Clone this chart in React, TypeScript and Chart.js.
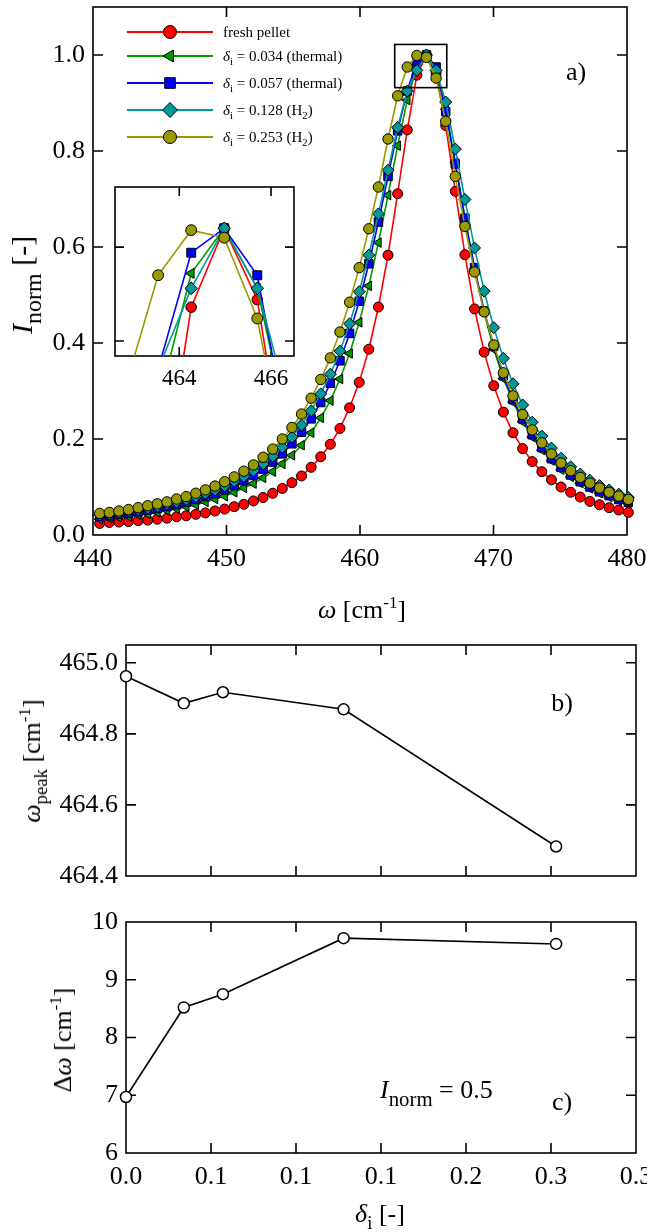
import React, { useEffect, useRef } from 'react';
import { Chart, registerables } from 'chart.js';
import { drawPoint } from 'chart.js/helpers';

Chart.register(...registerables);

const FONT = '"Liberation Serif", "Times New Roman", Times, serif';
Chart.defaults.font.family = FONT;
Chart.defaults.color = '#000';

// ---------- panel a: normalised spectra ----------
const wavenumber = [
  440.50, 441.22, 441.94, 442.66, 443.38, 444.10, 444.82, 445.54, 446.26, 446.98,
  447.70, 448.42, 449.14, 449.86, 450.58, 451.30, 452.02, 452.74, 453.46, 454.18,
  454.90, 455.62, 456.34, 457.06, 457.78, 458.50, 459.22, 459.94, 460.66, 461.38,
  462.10, 462.82, 463.54, 464.26, 464.98, 465.70, 466.42, 467.14, 467.86, 468.58,
  469.30, 470.02, 470.74, 471.46, 472.18, 472.90, 473.62, 474.34, 475.06, 475.78,
  476.50, 477.22, 477.94, 478.66, 479.38, 480.10,
];
const freshPellet = [
  0.024, 0.026, 0.027, 0.028, 0.030, 0.031, 0.033, 0.035, 0.038, 0.040,
  0.043, 0.046, 0.050, 0.054, 0.059, 0.064, 0.071, 0.078, 0.087, 0.097,
  0.109, 0.123, 0.141, 0.163, 0.189, 0.222, 0.265, 0.318, 0.387, 0.475,
  0.583, 0.711, 0.844, 0.958, 1.000, 0.962, 0.853, 0.716, 0.584, 0.471,
  0.381, 0.311, 0.256, 0.213, 0.180, 0.153, 0.132, 0.115, 0.100, 0.089,
  0.079, 0.070, 0.063, 0.057, 0.052, 0.047,
];
const thermal034 = [
  0.033, 0.035, 0.037, 0.039, 0.042, 0.044, 0.047, 0.051, 0.055, 0.059,
  0.063, 0.069, 0.075, 0.081, 0.089, 0.098, 0.107, 0.119, 0.132, 0.148,
  0.166, 0.187, 0.213, 0.244, 0.280, 0.325, 0.378, 0.443, 0.519, 0.609,
  0.708, 0.811, 0.906, 0.976, 1.000, 0.968, 0.887, 0.776, 0.660, 0.554,
  0.463, 0.387, 0.326, 0.277, 0.236, 0.204, 0.177, 0.155, 0.136, 0.121,
  0.108, 0.097, 0.087, 0.079, 0.072, 0.066,
];
const thermal057 = [
  0.038, 0.040, 0.043, 0.045, 0.048, 0.052, 0.055, 0.059, 0.063, 0.068,
  0.074, 0.080, 0.086, 0.094, 0.103, 0.113, 0.124, 0.137, 0.152, 0.169,
  0.190, 0.214, 0.242, 0.276, 0.316, 0.363, 0.420, 0.487, 0.565, 0.652,
  0.747, 0.842, 0.925, 0.987, 1.000, 0.975, 0.882, 0.773, 0.660, 0.557,
  0.467, 0.393, 0.332, 0.282, 0.242, 0.209, 0.182, 0.159, 0.141, 0.125,
  0.111, 0.100, 0.090, 0.082, 0.074, 0.068,
];
const hydrogen128 = [
  0.042, 0.044, 0.047, 0.050, 0.053, 0.056, 0.060, 0.065, 0.069, 0.074,
  0.080, 0.087, 0.094, 0.102, 0.112, 0.122, 0.134, 0.148, 0.164, 0.183,
  0.204, 0.229, 0.259, 0.294, 0.335, 0.383, 0.440, 0.507, 0.583, 0.669,
  0.760, 0.849, 0.925, 0.968, 1.000, 0.968, 0.902, 0.804, 0.699, 0.598,
  0.508, 0.432, 0.368, 0.315, 0.271, 0.235, 0.206, 0.181, 0.160, 0.142,
  0.127, 0.114, 0.103, 0.094, 0.085, 0.078,
];
const hydrogen253 = [
  0.045, 0.047, 0.050, 0.053, 0.057, 0.061, 0.065, 0.069, 0.075, 0.080,
  0.087, 0.094, 0.102, 0.111, 0.121, 0.133, 0.146, 0.162, 0.179, 0.200,
  0.224, 0.252, 0.285, 0.324, 0.369, 0.423, 0.485, 0.557, 0.638, 0.725,
  0.825, 0.915, 0.975, 0.999, 0.995, 0.952, 0.862, 0.747, 0.643, 0.548,
  0.465, 0.396, 0.338, 0.290, 0.251, 0.219, 0.192, 0.169, 0.150, 0.134,
  0.120, 0.108, 0.098, 0.089, 0.081, 0.074,
];
const seriesValues = [freshPellet, thermal034, thermal057, hydrogen128, hydrogen253];
const seriesLabels = [
  'fresh pellet',
  '*δ*_{i} = 0.034 (thermal)',
  '*δ*_{i} = 0.057 (thermal)',
  '*δ*_{i} = 0.128 (H_{2})',
  '*δ*_{i} = 0.253 (H_{2})',
];
const seriesColors = ['#ff0000', '#009a00', '#0000ff', '#009999', '#9a9a00'];
const seriesStyles = ['circle', 'triangle', 'rect', 'rectRot', 'circle'];
const seriesRotation = [0, -90, 0, 0, 0];
const seriesRadius = [5, 5.5, 6, 6, 5.2];
const legendRadius = [6.5, 7, 7.5, 7.5, 6.5];

const mainXTicks = [440, 450, 460, 470, 480];
const mainYTicks = [0, 0.2, 0.4, 0.6, 0.8, 1.0];
const insetXTicks = [464, 466];
const insetYTicks = [0.94, 0.99];
const insetXRange = [462.6, 466.5];
const insetYRange = [0.932, 1.022];

// ---------- panels b and c ----------
const deltaI = [0, 0.034, 0.057, 0.128, 0.253];
const omegaPeak = [464.962, 464.886, 464.917, 464.869, 464.483];
const deltaOmega = [6.97, 8.52, 8.75, 9.72, 9.62];
const deltaTicks = [0, 0.05, 0.1, 0.15, 0.2, 0.25, 0.3];
const deltaTickLabels = ['0.0', '0.1', '0.1', '0.1', '0.2', '0.3', '0.3'];
const peakTicks = [464.4, 464.6, 464.8, 465.0];
const widthTicks = [6, 7, 8, 9, 10];

// ---------- plugins ----------
const frameTicksPlugin = {
  id: 'frameTicks',
  beforeDatasetsDraw(chart: any, _a: any, opts: any) {
    const { ctx, chartArea } = chart;
    const { left, right, top, bottom } = chartArea;
    const len = opts.len ?? 10;
    ctx.save();
    ctx.strokeStyle = '#000';
    ctx.lineWidth = opts.width ?? 1.6;
    ctx.beginPath();
    const xs = chart.scales.x;
    const ys = chart.scales.y;
    for (const t of xs.ticks) {
      const px = xs.getPixelForValue(t.value);
      if (px < left + 1 || px > right - 1) continue;
      ctx.moveTo(px, bottom);
      ctx.lineTo(px, bottom - len);
      if (opts.mirror) {
        ctx.moveTo(px, top);
        ctx.lineTo(px, top + len);
      }
    }
    for (const t of ys.ticks) {
      const py = ys.getPixelForValue(t.value);
      if (py < top + 1 || py > bottom - 1) continue;
      ctx.moveTo(left, py);
      ctx.lineTo(left + len, py);
      if (opts.mirror) {
        ctx.moveTo(right, py);
        ctx.lineTo(right - len, py);
      }
    }
    ctx.stroke();
    ctx.strokeRect(left, top, right - left, bottom - top);
    ctx.restore();
  },
};

const zoomBoxPlugin = {
  id: 'zoomBox',
  afterDatasetsDraw(chart: any) {
    const { ctx } = chart;
    const xs = chart.scales.x;
    const ys = chart.scales.y;
    const x0 = xs.getPixelForValue(insetXRange[0]);
    const x1 = xs.getPixelForValue(insetXRange[1]);
    const y0 = ys.getPixelForValue(insetYRange[1]);
    const y1 = ys.getPixelForValue(insetYRange[0]);
    ctx.save();
    ctx.strokeStyle = '#000';
    ctx.lineWidth = 1.6;
    ctx.strokeRect(x0, y0, x1 - x0, y1 - y0);
    ctx.restore();
  },
};

const legendRows = [32, 56, 83, 110, 137];
const legendSamplesPlugin = {
  id: 'legendSamples',
  afterDraw(chart: any) {
    const { ctx } = chart;
    chart.data.datasets.forEach((ds: any, i: number) => {
      const y = legendRows[i];
      ctx.save();
      ctx.strokeStyle = ds.borderColor;
      ctx.lineWidth = 1.8;
      ctx.beginPath();
      ctx.moveTo(127, y);
      ctx.lineTo(213, y);
      ctx.stroke();
      ctx.fillStyle = ds.pointBackgroundColor;
      ctx.strokeStyle = '#000';
      ctx.lineWidth = 1;
      drawPoint(ctx, { pointStyle: ds.pointStyle, rotation: ds.pointRotation, radius: legendRadius[i], borderWidth: 1 } as any, 170, y);
      ctx.restore();
    });
  },
};

const tickFont = (size: number) => ({ family: FONT, size });
const noPad = (s: any) => {
  s.paddingLeft = 0;
  s.paddingRight = 0;
  s.paddingTop = 0;
  s.paddingBottom = 0;
};

function spectraDatasets(radiusScale: number, clip: any) {
  return seriesValues.map((vals, i) => ({
    label: seriesLabels[i],
    data: wavenumber.map((x, k) => ({ x, y: vals[k] })),
    borderColor: seriesColors[i],
    backgroundColor: seriesColors[i],
    borderWidth: 1.6,
    pointStyle: seriesStyles[i],
    pointRotation: seriesRotation[i],
    pointRadius: seriesRadius[i] * radiusScale,
    pointBackgroundColor: seriesColors[i],
    pointBorderColor: '#000',
    pointBorderWidth: 1,
    tension: 0,
    order: 4 - i,
    clip,
  }));
}

function mainConfig(): any {
  return {
    type: 'line',
    data: { datasets: spectraDatasets(1, false) },
    options: {
      responsive: false,
      animation: false,
      devicePixelRatio: 1,
      layout: { padding: { top: 2, right: 20, left: 0, bottom: 0 } },
      plugins: {
        legend: { display: false },
        tooltip: { enabled: false },
        frameTicks: { mirror: true, len: 10 },
      },
      scales: {
        x: {
          type: 'linear', min: 440, max: 480,
          afterBuildTicks: (s: any) => { s.ticks = mainXTicks.map((v) => ({ value: v })); },
          afterFit: (s: any) => { s.height = 90; noPad(s); },
          grid: { display: false, drawTicks: false },
          border: { display: false },
          ticks: { font: tickFont(26), color: '#000', padding: 9, maxRotation: 0, autoSkip: false, callback: (v: any) => String(v) },
        },
        y: {
          type: 'linear', min: 0, max: 1.1,
          afterBuildTicks: (s: any) => { s.ticks = mainYTicks.map((v) => ({ value: v })); },
          afterFit: (s: any) => { s.width = 93; noPad(s); },
          grid: { display: false, drawTicks: false },
          border: { display: false },
          ticks: { font: tickFont(26), color: '#000', padding: 8, autoSkip: false, callback: (v: any) => Number(v).toFixed(1) },
        },
      },
    },
    plugins: [frameTicksPlugin, zoomBoxPlugin, legendSamplesPlugin],
  };
}

function insetConfig(): any {
  return {
    type: 'line',
    data: { datasets: spectraDatasets(1.05, 0) },
    options: {
      responsive: false,
      animation: false,
      devicePixelRatio: 1,
      layout: { padding: { top: 17, right: 16, left: 0, bottom: 0 } },
      plugins: {
        legend: { display: false },
        tooltip: { enabled: false },
        frameTicks: { mirror: true, len: 9 },
      },
      scales: {
        x: {
          type: 'linear', min: insetXRange[0], max: insetXRange[1],
          afterBuildTicks: (s: any) => { s.ticks = insetXTicks.map((v) => ({ value: v })); },
          afterFit: (s: any) => { s.height = 39; noPad(s); },
          grid: { display: false, drawTicks: false },
          border: { display: false },
          ticks: { font: tickFont(23), color: '#000', padding: 9, maxRotation: 0, autoSkip: false, callback: (v: any) => String(v) },
        },
        y: {
          type: 'linear', min: insetYRange[0], max: insetYRange[1],
          afterBuildTicks: (s: any) => { s.ticks = insetYTicks.map((v) => ({ value: v })); },
          afterFit: (s: any) => { s.width = 15; noPad(s); },
          grid: { display: false, drawTicks: false },
          border: { display: false },
          ticks: { display: false },
        },
      },
    },
    plugins: [frameTicksPlugin],
  };
}

function trendConfig(values: number[], yMin: number, yMax: number, yTicks: number[], yFmt: (v: number) => string, showX: boolean, padTop: number, xHeight: number): any {
  return {
    type: 'line',
    data: {
      datasets: [{
        data: deltaI.map((x, k) => ({ x, y: values[k] })),
        borderColor: '#000',
        borderWidth: 1.6,
        pointStyle: 'circle',
        pointRadius: 5.5,
        pointBackgroundColor: '#fff',
        pointBorderColor: '#000',
        pointBorderWidth: 1.5,
        tension: 0,
        clip: false,
      }],
    },
    options: {
      responsive: false,
      animation: false,
      devicePixelRatio: 1,
      layout: { padding: { top: padTop, right: 11, left: 0, bottom: 0 } },
      plugins: {
        legend: { display: false },
        tooltip: { enabled: false },
        frameTicks: { mirror: true, len: 10 },
      },
      scales: {
        x: {
          type: 'linear', min: 0, max: 0.3,
          afterBuildTicks: (s: any) => { s.ticks = deltaTicks.map((v) => ({ value: v })); },
          afterFit: (s: any) => { s.height = xHeight; noPad(s); },
          grid: { display: false, drawTicks: false },
          border: { display: false },
          ticks: { display: showX, font: tickFont(26), color: '#000', padding: 9, maxRotation: 0, autoSkip: false, callback: (_v: any, i: number) => deltaTickLabels[i] },
        },
        y: {
          type: 'linear', min: yMin, max: yMax,
          afterBuildTicks: (s: any) => { s.ticks = yTicks.map((v) => ({ value: v })); },
          afterFit: (s: any) => { s.width = 126; noPad(s); },
          grid: { display: false, drawTicks: false },
          border: { display: false },
          ticks: { font: tickFont(26), color: '#000', padding: 8, autoSkip: false, callback: (v: any) => yFmt(Number(v)) },
        },
      },
    },
    plugins: [frameTicksPlugin],
  };
}

// ---------- components ----------
function ChartCanvas({ left, top, width, height, make }: any) {
  const ref = useRef<HTMLCanvasElement>(null);
  useEffect(() => {
    const chart = new Chart(ref.current as HTMLCanvasElement, make());
    return () => chart.destroy();
  }, []);
  return <canvas ref={ref} width={width} height={height} style={{ position: 'absolute', left, top, width, height }} />;
}

function Rich({ text, subScale = 0.72 }: { text: string; subScale?: number }) {
  const parts: any[] = [];
  const re = /(\*[^*]+\*|_\{[^}]*\}|\^\{[^}]*\})/g;
  let last = 0;
  let m: RegExpExecArray | null;
  let k = 0;
  while ((m = re.exec(text)) !== null) {
    if (m.index > last) parts.push(<span key={k++}>{text.slice(last, m.index)}</span>);
    const tok = m[0];
    if (tok[0] === '*') parts.push(<i key={k++}>{tok.slice(1, -1)}</i>);
    else if (tok[0] === '_') parts.push(<span key={k++} style={{ fontSize: subScale + 'em', position: 'relative', top: '0.38em' }}>{tok.slice(2, -1)}</span>);
    else parts.push(<span key={k++} style={{ fontSize: '0.65em', position: 'relative', top: '-0.62em' }}>{tok.slice(2, -1)}</span>);
    last = m.index + tok.length;
  }
  if (last < text.length) parts.push(<span key={k++}>{text.slice(last)}</span>);
  return <>{parts}</>;
}

function Label({ x, y, text, size = 26, rotate = false, anchor = 'center', subScale }: any) {
  const tx = anchor === 'left' ? '0' : '-50%';
  return (
    <div style={{
      position: 'absolute', left: x, top: y, fontSize: size, lineHeight: 1, whiteSpace: 'nowrap',
      transform: `translate(${tx},-50%)${rotate ? ' rotate(-90deg)' : ''}`,
    }}>
      <Rich text={text} subScale={subScale} />
    </div>
  );
}

export default function App() {
  return (
    <div style={{ position: 'absolute', left: 0, top: 0, width: 647, height: 1232, background: '#fff', fontFamily: FONT, color: '#000', overflow: 'hidden' }}>
      <ChartCanvas left={0} top={0} width={647} height={625} make={mainConfig} />
      <ChartCanvas left={100} top={170} width={210} height={225} make={insetConfig} />
      <ChartCanvas left={0} top={630} width={647} height={270}
        make={() => trendConfig(omegaPeak, 464.4, 465.05, peakTicks, (v) => v.toFixed(1), false, 15, 24)} />
      <ChartCanvas left={0} top={900} width={647} height={320}
        make={() => trendConfig(deltaOmega, 6, 10, widthTicks, (v) => String(v), true, 22, 67)} />

      {seriesLabels.map((t, i) => (
        <Label key={i} x={223} y={legendRows[i]} text={t} size={15} anchor="left" />
      ))}
      <Label x={576} y={72} text="a)" size={26} />
      <Label x={362} y={610} text="*ω* [cm^{-1}]" size={26} />
      <Label x={22} y={285} text="*I*_{norm} [-]" size={30} rotate subScale={0.8} />

      <Label x={562} y={703} text="b)" size={26} />
      <Label x={32} y={761} text="*ω*_{peak} [cm^{-1}]" size={26} rotate />

      <Label x={562} y={1102} text="c)" size={26} />
      <Label x={63} y={1040} text="Δ*ω* [cm^{-1}]" size={26} rotate />
      <Label x={380} y={1090} text="*I*_{norm} = 0.5" size={26} anchor="left" subScale={0.8} />
      <Label x={380} y={1214} text="*δ*_{i} [-]" size={26} />
    </div>
  );
}
